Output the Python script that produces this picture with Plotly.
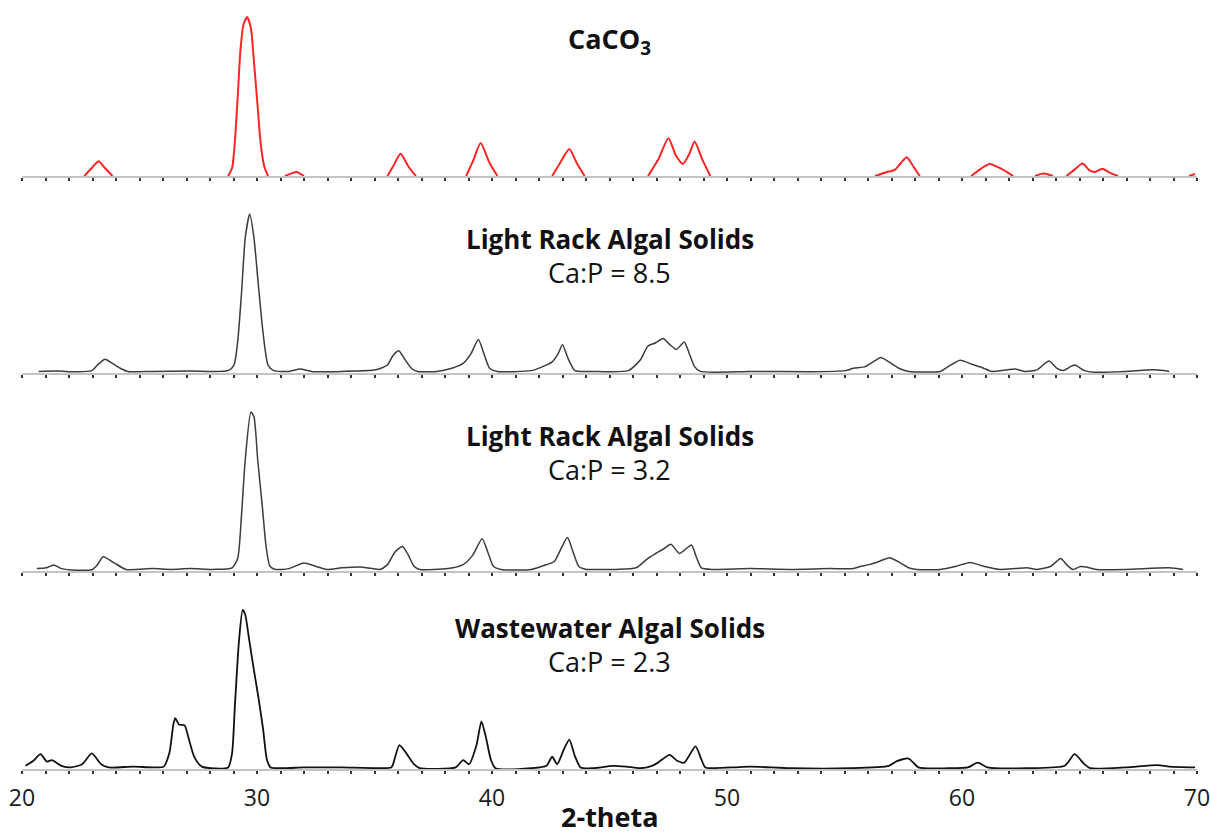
import plotly.graph_objects as go

# ---------------- data (2-theta in degrees, relative intensity in %) ----------------
caco3_x = [22.65, 22.97, 23.26, 23.53, 23.85, None,
           28.77, 28.94, 29.06, 29.18, 29.29, 29.42, 29.58, 29.74, 29.87, 30.02, 30.16, 30.31, 30.47, None,
           31.19, 31.44, 31.68, 32.0, None,
           35.55, 35.79, 36.11, 36.44, 36.76, None,
           38.9, 39.18, 39.52, 39.87, 40.23, None,
           42.56, 42.89, 43.29, 43.61, 43.94, None,
           46.64, 47.06, 47.51, 47.82, 48.12, 48.4, 48.62, 48.96, 49.29, None,
           56.3, 56.81, 57.14, 57.39, 57.65, 57.93, 58.2, None,
           60.39, 60.84, 61.18, 61.68, 62.18, None,
           63.11, 63.45, 63.87, None,
           64.45, 64.79, 65.13, 65.43, 65.66, 65.97, 66.3, 66.64, None,
           69.66, 69.92]
caco3_y = [0, 5, 9.3, 5, 0, None,
           0, 5, 22, 50, 78, 95, 100, 93, 72, 45, 20, 6, 0, None,
           0, 1.5, 2.5, 0, None,
           0, 6, 14, 6, 0, None,
           0, 9, 20.7, 9, 0, None,
           0, 8, 17, 8, 0, None,
           0, 10, 23.8, 13, 7.6, 14, 21.7, 10, 0, None,
           0, 2.5, 3.8, 8, 11.8, 6, 0, None,
           0, 5, 7.6, 4.5, 0, None,
           0, 1.5, 0, None,
           0, 4, 7.8, 3.5, 2.5, 4.6, 2, 0, None,
           0, 1.3]

lr85_x = [20.71, 21.52, 22.32, 22.97, 23.21, 23.53, 23.85, 24.18, 24.5, 25.55, 27.16, 28.77,
          29.02, 29.18, 29.34, 29.5, 29.69, 29.87, 30.06, 30.26, 30.47, 30.71,
          31.35, 31.84, 32.32, 33.61, 35.06, 35.55, 35.79, 36.03, 36.27, 36.6, 36.84,
          37.65, 38.29, 38.77, 39.1, 39.42, 39.66, 39.9, 40.23,
          41.68, 42.16, 42.56, 42.81, 43.0, 43.24, 43.53,
          44.29, 45.8, 46.3, 46.64, 46.97, 47.28, 47.56, 47.85, 48.18, 48.4, 48.62, 48.86,
          51.01, 53.53, 55.04, 55.38, 55.88, 56.22, 56.55, 56.89, 57.31, 57.73,
          59.08, 59.41, 59.92, 60.42, 60.92, 61.26, 61.93, 62.27, 62.69,
          63.19, 63.7, 64.03, 64.29, 64.79, 65.21, 65.63, 66.97, 68.15, 68.57, 68.82]
lr85_y = [1, 1.2, 0.8, 1.5, 5, 8.7, 6, 3, 1, 1, 1.2, 1.5,
          5, 20, 50, 85, 100, 85, 55, 25, 5, 1.5,
          1, 2.5, 1, 1, 2, 5, 11, 14, 9, 2.5, 1,
          1, 3, 6, 12, 21, 12, 3, 1,
          1.5, 4, 7, 12, 17.7, 9, 1.5,
          1, 1.5, 8, 17, 19, 21.7, 18, 14.8, 19.5, 12, 4, 1,
          1, 0.8, 1.5, 3, 4, 7, 9.8, 7, 3, 1,
          1, 4, 8, 5.5, 3, 1, 2, 2.5, 1,
          2, 7.6, 3, 1.5, 5, 1.5, 0.5, 1, 2, 1.5, 1]

lr32_x = [20.63, 21.03, 21.35, 21.68, 22.32, 22.97, 23.21, 23.45, 23.94, 24.42, 25.55, 26.35, 27.16, 28.13,
          28.94, 29.18, 29.34, 29.5, 29.74, 29.87, 30.03, 30.23, 30.39, 30.55, 30.79,
          31.35, 32.0, 32.48, 32.97, 33.61, 34.42, 35.23, 35.55, 35.87, 36.19, 36.44, 36.68, 36.92,
          38.13, 38.77, 39.18, 39.58, 39.82, 40.06, 40.39,
          41.68, 42.32, 42.65, 42.97, 43.21, 43.45, 43.69, 44.02,
          44.29, 45.29, 46.13, 46.64, 46.97, 47.31, 47.61, 47.98, 48.18, 48.49, 48.69, 48.91, 49.33,
          51.01, 52.69, 54.37, 55.38, 55.71, 56.05, 56.47, 56.92, 57.39, 57.73, 58.07,
          59.08, 59.75, 60.34, 60.92, 61.6, 62.27, 62.77, 63.19,
          63.78, 64.2, 64.45, 64.71, 65.04, 65.29, 65.71, 66.97, 68.82, 69.41]
lr32_y = [1.5, 2, 3.8, 1.5, 0.5, 0.8, 4, 9, 5, 1, 1.5, 1, 1.5, 1,
          2, 8, 35, 70, 100, 97, 70, 40, 15, 3, 1,
          1.5, 5, 3, 1, 2, 2.5, 1, 4, 12, 15.4, 10, 3, 1,
          1.5, 4, 10, 20.3, 12, 3, 1,
          1, 4, 6, 15, 21, 12, 3, 1,
          1, 1, 2, 8, 11, 14, 16.8, 11, 13, 16.4, 9, 2, 1,
          1.5, 1, 1.5, 1.5, 3, 4, 6, 8.4, 5, 2, 1,
          1, 3, 5.4, 3, 1, 1.5, 2, 1,
          3, 7.8, 4, 1, 2.8, 2.5, 1, 1, 2, 1]

ww_x = [20.15, 20.47, 20.79, 21.06, 21.27, 21.68, 22.08, 22.56, 22.97, 23.37, 23.69, 24.74, 25.55,
        26.03, 26.27, 26.44, 26.52, 26.68, 26.92, 27.08, 27.32, 27.65,
        28.77, 28.94, 29.06, 29.23, 29.39, 29.5, 29.66, 29.87, 30.06, 30.26, 30.42, 30.58,
        32.0, 33.61, 35.71, 35.79, 36.06, 36.35, 36.68, 36.92,
        38.45, 38.77, 39.02, 39.34, 39.55, 39.74, 39.95, 40.15,
        41.68, 42.32, 42.56, 42.77, 43.05, 43.29, 43.53, 43.77,
        44.29, 45.13, 45.71, 46.3, 46.81, 47.06, 47.56, 47.9, 48.18, 48.66, 48.91, 49.08,
        50.17, 51.01, 52.69, 55.21, 56.89, 57.23, 57.73, 58.15,
        59.41, 60.25, 60.67, 61.09, 62.77, 64.37, 64.79, 65.21, 65.46,
        66.97, 68.32, 68.82, 69.92]
ww_y = [2, 5, 9.3, 4.6, 5.6, 2, 1, 3, 9.8, 3, 1, 1.5, 1,
        1.5, 10, 28, 32, 28, 27.4, 20, 8, 1.5,
        1, 10, 40, 80, 100, 97, 82, 62, 45, 25, 6, 1,
        1, 1, 1, 3, 15, 10, 3, 0.5,
        1, 5.6, 3, 15, 30, 20, 6, 0.5,
        0.5, 2, 7.7, 3, 12, 18.5, 8, 1,
        0.5, 2, 1.5, 0.5, 2, 4, 8.9, 5, 4, 14.2, 6, 1,
        1, 1.5, 0.5, 0.5, 2, 5, 6.6, 1,
        0.5, 1, 4, 1, 0.5, 2, 9.3, 3, 0.5,
        1, 2.5, 1.5, 1]

titles = ["<b>CaCO<sub>3</sub></b>", "<b>Light Rack Algal Solids</b>",
          "<b>Light Rack Algal Solids</b>", "<b>Wastewater Algal Solids</b>"]
subtitles = [None, "Ca:P = 8.5", "Ca:P = 3.2", "Ca:P = 2.3"]
x_tick_values = [20, 30, 40, 50, 60, 70]
x_tick_labels = ["20", "30", "40", "50", "60", "70"]
x_axis_title = "<b>2-theta</b>"

# ---------------- layout geometry (pixels) ----------------
W, H = 1211, 836
PL, PR = 22, 1197
PT, PB = 0, 769
PH = PB - PT
baselines = [176, 373, 571, 769]
panel_px = 190
px_per_unit = 1.59
title_y = [40, 238.5, 435.5, 627.5]
sub_y = [None, 272.5, 469.5, 661.5]
xtitle_y = 816

series = [(caco3_x, caco3_y, "#ff2424", 2.0),
          (lr85_x, lr85_y, "#3c3c3c", 1.5),
          (lr32_x, lr32_y, "#3c3c3c", 1.5),
          (ww_x, ww_y, "#111111", 1.8)]

def pfrac(ypx):
    return (PB - ypx) / PH

fig = go.Figure()
layout_axes = {}
for i, (xs, ys, col, lw) in enumerate(series):
    n = i + 1
    xa = "x" if n == 1 else f"x{n}"
    ya = "y" if n == 1 else f"y{n}"
    fig.add_trace(go.Scatter(x=xs, y=ys, mode="lines", xaxis=xa, yaxis=ya,
                             line=dict(color=col, width=lw, shape="spline", smoothing=0.6),
                             connectgaps=False, showlegend=False, hoverinfo="skip"))
    base = baselines[i]
    top_px = max(PT, base - panel_px)
    dom = [pfrac(base), min(1.0, pfrac(top_px))]
    rng_top = (base - top_px) / px_per_unit
    xkey = "xaxis" if n == 1 else f"xaxis{n}"
    ykey = "yaxis" if n == 1 else f"yaxis{n}"
    xdict = dict(range=[20, 70], anchor=ya, showgrid=False, zeroline=False,
                 showline=True, linecolor="#c4c4c4", linewidth=2,
                 ticks="outside", ticklen=3, tickwidth=2, tickcolor="#333333",
                 automargin=False)
    if n == 4:
        xdict.update(tickmode="array", tickvals=x_tick_values, ticktext=x_tick_labels,
                     showticklabels=True, ticklabelstandoff=4,
                     tickfont=dict(family="Open Sans", size=23, color="#1a1a1a"),
                     minor=dict(dtick=1, tick0=20, ticks="outside", ticklen=3, tickwidth=2,
                                tickcolor="#333333", showgrid=False))
    else:
        xdict.update(tickmode="linear", tick0=20, dtick=1, showticklabels=False, matches="x4")
    layout_axes[xkey] = xdict
    layout_axes[ykey] = dict(domain=dom, range=[0, rng_top], visible=False, fixedrange=True)

annotations = []
for i in range(4):
    annotations.append(dict(text=titles[i], xref="paper", yref="paper", x=0.5, y=pfrac(title_y[i]),
                            xanchor="center", yanchor="middle", showarrow=False,
                            font=dict(family="Open Sans", size=27 if i == 0 else 26, color="#111111")))
    if subtitles[i]:
        annotations.append(dict(text=subtitles[i], xref="paper", yref="paper", x=0.5, y=pfrac(sub_y[i]),
                                xanchor="center", yanchor="middle", showarrow=False,
                                font=dict(family="Open Sans", size=27, color="#111111")))
annotations.append(dict(text=x_axis_title, xref="paper", yref="paper", x=0.5, y=pfrac(xtitle_y),
                        xanchor="center", yanchor="middle", showarrow=False,
                        font=dict(family="Open Sans", size=27, color="#111111")))

fig.update_layout(width=W, height=H, margin=dict(l=PL, r=W - PR, t=PT, b=H - PB),
                  paper_bgcolor="white", plot_bgcolor="white", annotations=annotations,
                  **layout_axes)
fig.write_html("out.html", config={"displayModeBar": False},
               post_script="document.body.style.margin='0';document.body.style.overflow='hidden';")
